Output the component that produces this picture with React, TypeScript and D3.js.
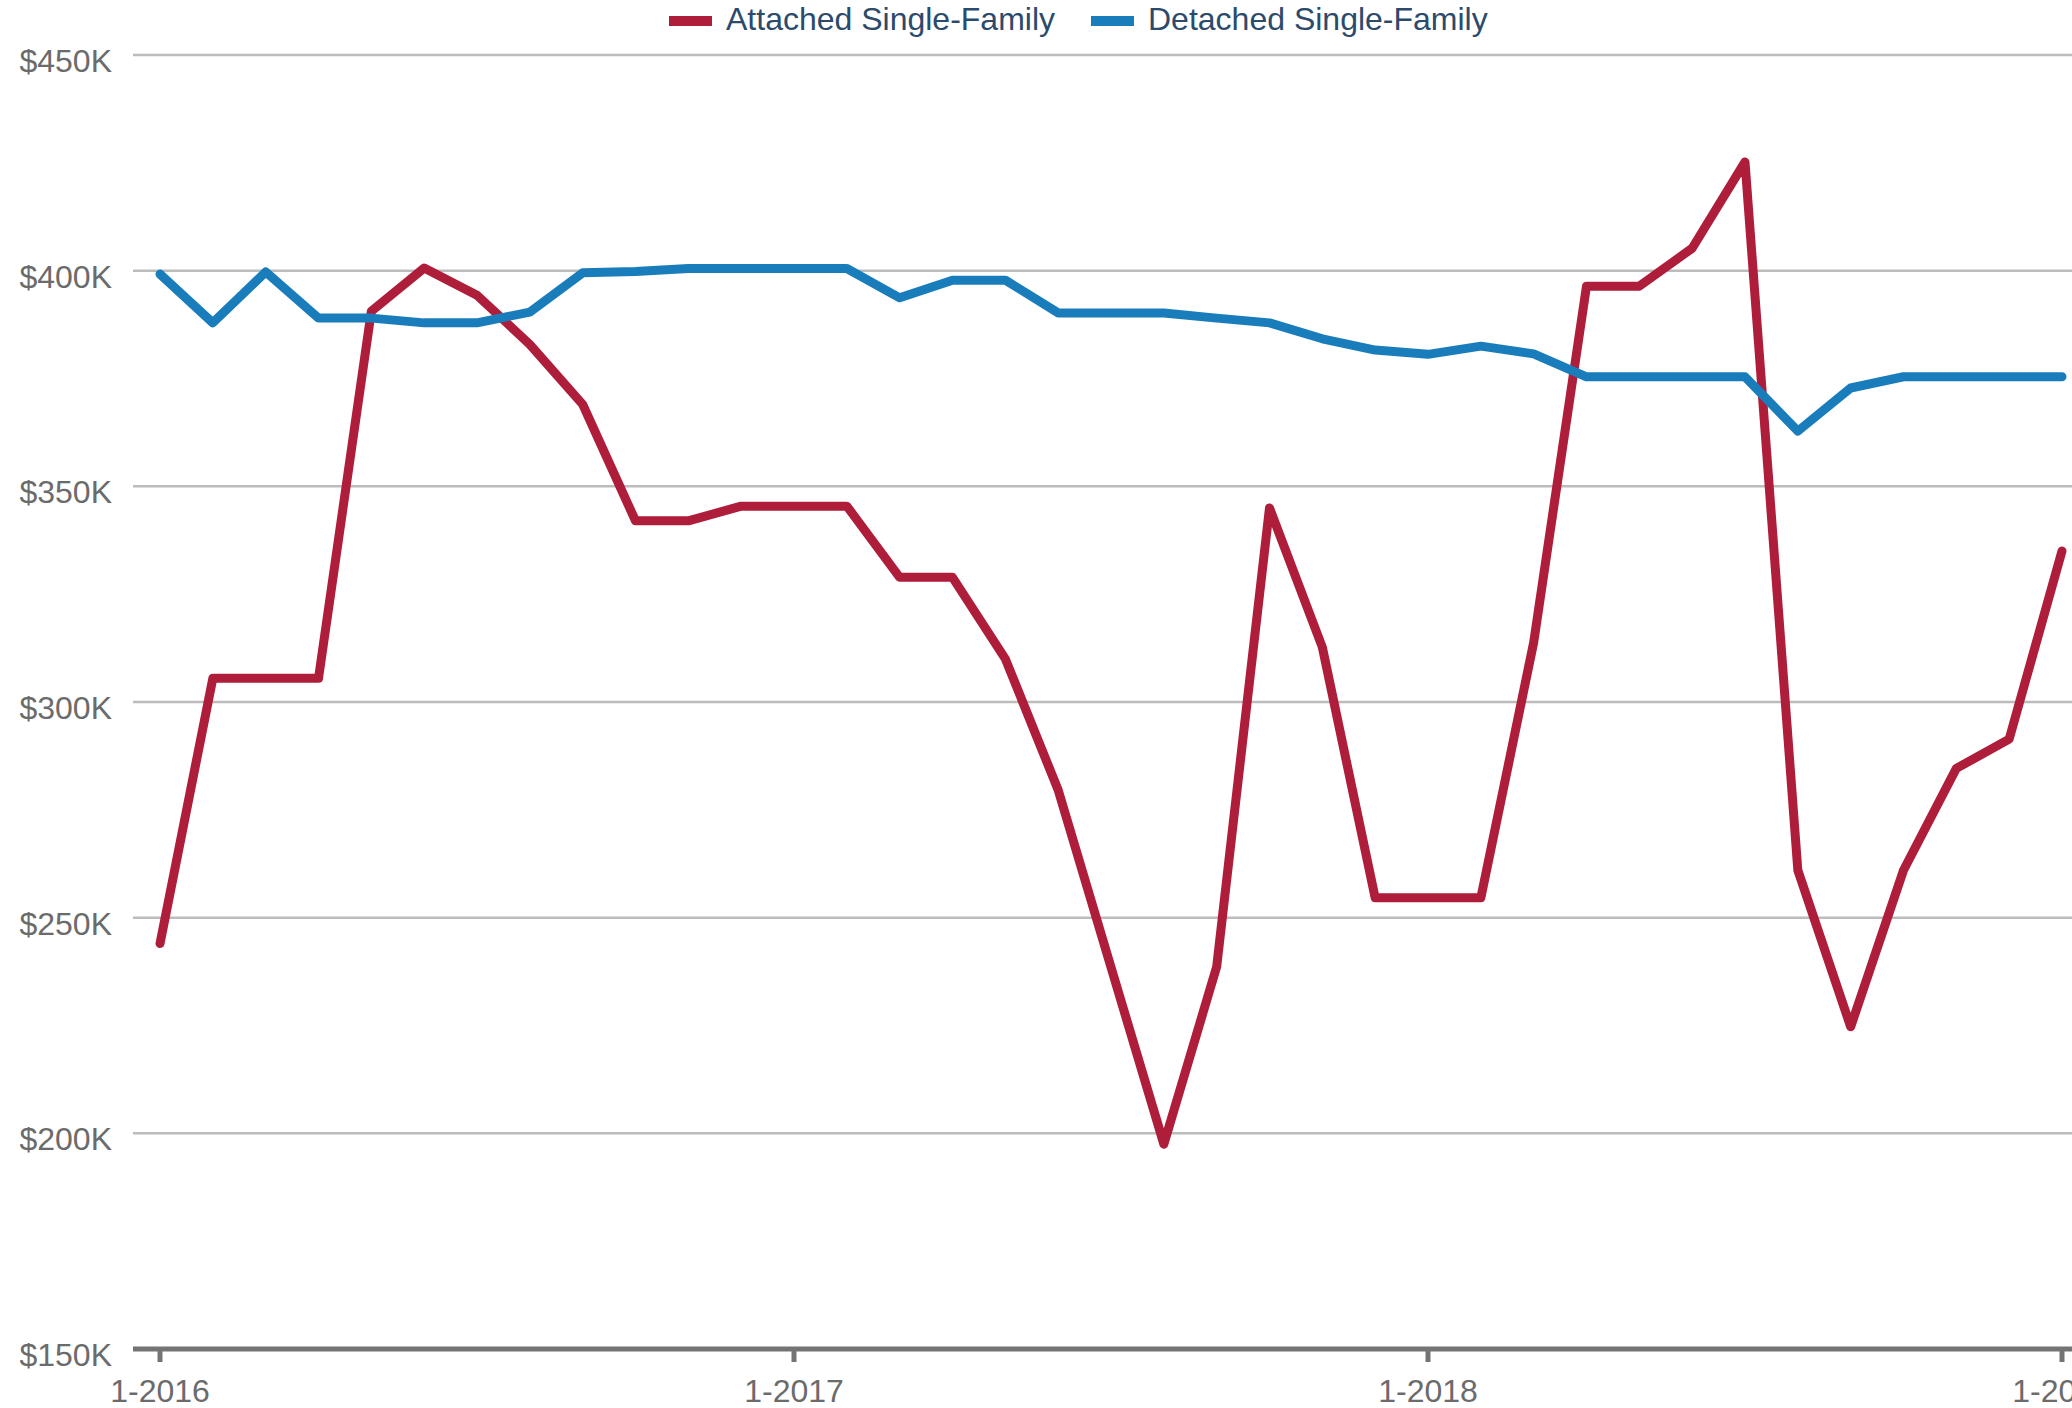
import React, { useEffect, useRef } from 'react';
import * as d3 from 'd3';

// monthly labels, Jan 2016 .. Jan 2019
const months: string[] = d3
  .timeMonth.range(new Date(2016, 0, 1), new Date(2019, 1, 1))
  .map((d) => d3.timeFormat('%-m-%Y')(d));

// median price, $K
const attached = [
  244, 305.5, 305.5, 305.5, 390.6, 400.6, 394.3, 382.9, 369, 342, 342, 345.4,
  345.4, 345.4, 328.9, 328.9, 310, 279.6, 238.5, 197.5, 238.6, 345, 312.7, 254.6,
  254.6, 254.6, 313.8, 396.4, 396.4, 405.2, 425.2, 261, 224.7, 261, 284.6, 291.4,
  335,
];
const detached = [
  399.2, 387.9, 399.7, 389, 389, 387.9, 387.9, 390.4, 399.5, 399.8, 400.5, 400.5,
  400.5, 400.5, 393.7, 397.8, 397.8, 390.2, 390.2, 390.2, 389, 387.9, 384.2, 381.6,
  380.6, 382.5, 380.7, 375.4, 375.4, 375.4, 375.4, 362.8, 372.8, 375.4, 375.4, 375.4,
  375.4,
];
const yTicks = [150, 200, 250, 300, 350, 400, 450];
const xTicks = ['1-2016', '1-2017', '1-2018', '1-2019'];

const series = [
  { name: 'Attached Single-Family', values: attached, color: '#ae1d3a' },
  { name: 'Detached Single-Family', values: detached, color: '#1a7dbb' },
];

const W = 2072;
const H = 1408;
const FONT = '"Liberation Sans", Arial, Helvetica, sans-serif';

const App = () => {
  const svgRef = useRef<SVGSVGElement>(null);

  useEffect(() => {
    const svg = d3.select(svgRef.current);
    svg.selectAll('*').remove();

    const plotLeft = 133;
    const x = d3.scalePoint<string>().domain(months).range([160, 2062]);
    const y = d3.scaleLinear().domain([150, 450]).range([1349, 55]);

    // grid
    svg.append('g')
      .selectAll('line')
      .data(yTicks.filter((t) => t !== 150))
      .enter()
      .append('line')
      .attr('x1', plotLeft)
      .attr('x2', W)
      .attr('y1', (d) => y(d))
      .attr('y2', (d) => y(d))
      .attr('stroke', '#bcbcbc')
      .attr('stroke-width', 2.5);

    // y labels
    svg.append('g')
      .selectAll('text')
      .data(yTicks)
      .enter()
      .append('text')
      .attr('x', 112)
      .attr('y', (d) => y(d) + 17)
      .attr('text-anchor', 'end')
      .attr('font-family', FONT)
      .attr('font-size', 32)
      .attr('fill', '#6b6b6b')
      .text((d) => `$${d}K`);

    // x axis
    const xAxis = svg.append('g');
    xAxis.append('line')
      .attr('x1', plotLeft)
      .attr('x2', W)
      .attr('y1', y(150))
      .attr('y2', y(150))
      .attr('stroke', '#747474')
      .attr('stroke-width', 5);
    xAxis.selectAll('.tick')
      .data(xTicks)
      .enter()
      .append('line')
      .attr('x1', (d) => x(d)!)
      .attr('x2', (d) => x(d)!)
      .attr('y1', y(150))
      .attr('y2', y(150) + 13)
      .attr('stroke', '#747474')
      .attr('stroke-width', 5);
    xAxis.selectAll('text')
      .data(xTicks)
      .enter()
      .append('text')
      .attr('x', (d) => x(d)!)
      .attr('y', 1402)
      .attr('text-anchor', 'middle')
      .attr('font-family', FONT)
      .attr('font-size', 32)
      .attr('fill', '#6b6b6b')
      .text((d) => d);

    // lines
    const line = d3
      .line<number>()
      .x((_, i) => x(months[i])!)
      .y((d) => y(d));

    series.forEach((s) => {
      svg.append('path')
        .datum(s.values)
        .attr('fill', 'none')
        .attr('stroke', s.color)
        .attr('stroke-width', 9)
        .attr('stroke-linejoin', 'round')
        .attr('stroke-linecap', 'round')
        .attr('d', line);
    });

    // legend
    const legendX = [669, 1091];
    const legend = svg.append('g');
    series.forEach((s, i) => {
      legend.append('rect')
        .attr('x', legendX[i])
        .attr('y', 16)
        .attr('width', 43)
        .attr('height', 10)
        .attr('fill', s.color);
      legend.append('text')
        .attr('x', legendX[i] + 57)
        .attr('y', 30)
        .attr('font-family', FONT)
        .attr('font-size', 32)
        .attr('fill', '#2b4a6c')
        .text(s.name);
    });
  }, []);

  return (
    <svg
      ref={svgRef}
      width={W}
      height={H}
      style={{ position: 'absolute', left: 0, top: 0, background: '#fff' }}
    />
  );
};

export default App;
